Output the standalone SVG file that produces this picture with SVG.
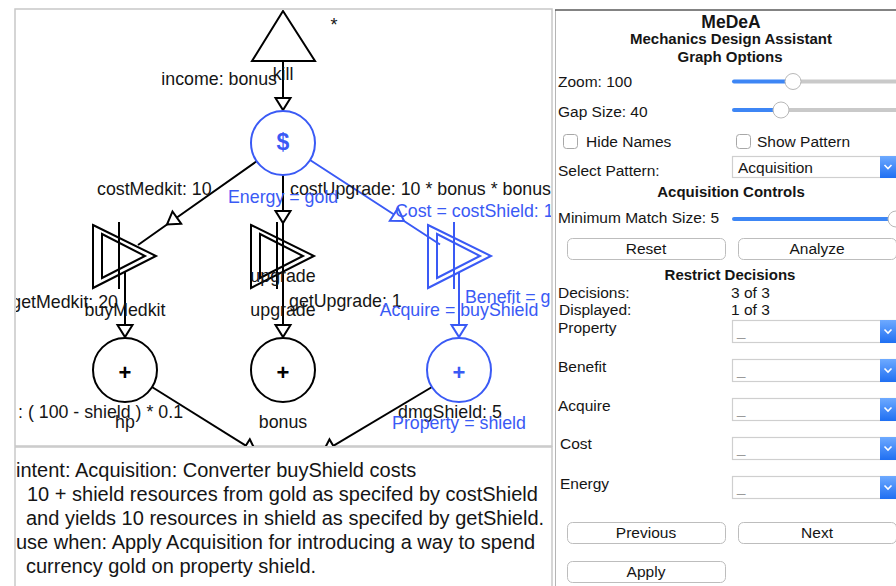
<svg xmlns="http://www.w3.org/2000/svg" width="896" height="586" viewBox="0 0 896 586">
  <style>
    text { font-family: "Liberation Sans", Arial, Helvetica, sans-serif; }
    .lbl { font-size: 17.8px; fill: #151515; }
    .blbl { font-size: 17.8px; fill: #3a5af5; }
    .mid { text-anchor: middle; }
    .end { text-anchor: end; }
    .ln { stroke: #000; stroke-width: 2; fill: none; }
    .bln { stroke: #3a5af5; stroke-width: 2; fill: none; }
    .node { stroke: #000; stroke-width: 2; fill: none; }
    .bnode { stroke: #3a5af5; stroke-width: 2; fill: none; }
    .sym { font-size: 22px; font-weight: bold; text-anchor: middle; fill: #000; }
    .ui { font-size: 15.5px; fill: #151515; }
    .hdr { font-size: 15px; font-weight: bold; fill: #151515; text-anchor: middle; }
    .desc { font-size: 20px; fill: #151515; }
    .btn { fill: #fff; stroke: #bdbdbd; stroke-width: 1; }
    .box { fill: #fff; stroke: #cfcfcf; stroke-width: 1.2; }
    .chk { fill: #fff; stroke: #a8a8a8; stroke-width: 1; }
    .track { stroke: #c9c9c9; stroke-width: 4; stroke-linecap: round; }
    .fill { stroke: #3d86f5; stroke-width: 4; stroke-linecap: round; }
    .thumb { fill: #fff; stroke: #b8b8b8; stroke-width: 1; }
    .drop { fill: url(#dropBlue); }
    .chev { stroke: #fff; stroke-width: 1.6; fill: none; }
    .blank { font-size: 15px; fill: #9a9a9a; }
  </style>
  <defs>
    <marker id="ah" markerUnits="userSpaceOnUse" markerWidth="16" markerHeight="18" refX="12" refY="7.5" orient="auto" overflow="visible">
      <path d="M0,0 L12,7.5 L0,15 Z" fill="#fff" stroke="#000" stroke-width="2"/>
    </marker>
    <marker id="ahBlue" markerUnits="userSpaceOnUse" markerWidth="16" markerHeight="18" refX="12" refY="7.5" orient="auto" overflow="visible">
      <path d="M0,0 L12,7.5 L0,15 Z" fill="#fff" stroke="#3a5af5" stroke-width="2"/>
    </marker>
    <linearGradient id="dropBlue" x1="0" y1="0" x2="0" y2="1">
      <stop offset="0" stop-color="#6eaaff"/>
      <stop offset="1" stop-color="#1f6ff2"/>
    </linearGradient>
    <clipPath id="graphClip">
      <rect x="16" y="10" width="535" height="436"/>
    </clipPath>
    <!-- converter symbol centred on its own origin -->
    <g id="conv">
      <path d="M-32,-31 L31,0 L-32,32 Z"/>
      <path d="M-23,-22 L20,0 L-23,22 Z"/>
      <line x1="-6" y1="-34" x2="-6" y2="33"/>
    </g>
  </defs>

  <rect width="896" height="586" fill="#fff"/>

  <!-- panel frames -->
  <rect x="15" y="9" width="537" height="437" fill="none" stroke="#c8c8c8" stroke-width="1.5"/>
  <line x1="15" y1="446.5" x2="15" y2="586" stroke="#c8c8c8" stroke-width="1.5"/>
  <line x1="15" y1="447" x2="552" y2="447" stroke="#c8c8c8" stroke-width="1.5"/>
  <line x1="552" y1="446" x2="552" y2="586" stroke="#c8c8c8" stroke-width="1.5"/>
  <line x1="555.5" y1="10" x2="555.5" y2="586" stroke="#b5b5b5" stroke-width="1"/>
  <line x1="555" y1="10" x2="896" y2="10" stroke="#5a5a5a" stroke-width="1.6"/>

  <g clip-path="url(#graphClip)">
    <!-- connectors -->
    <g id="connectors">
      <line class="ln" x1="283" y1="61" x2="283" y2="110" marker-end="url(#ah)"/>
      <polyline class="ln" points="257,161 167,224.5 138,245" marker-mid="url(#ah)"/>
      <polyline class="ln" points="283,175 283,223 283,337" marker-mid="url(#ah)" marker-end="url(#ah)"/>
      <polyline class="bln" points="310,160 404,221 440,244.5" marker-mid="url(#ahBlue)"/>
      <line class="ln" x1="125" y1="272" x2="125" y2="337" marker-end="url(#ah)"/>
      <line class="bln" x1="459" y1="272" x2="459" y2="337" marker-end="url(#ahBlue)"/>
      <line class="ln" x1="152" y1="387" x2="256" y2="452" marker-end="url(#ah)"/>
      <line class="ln" x1="432" y1="387" x2="323" y2="452" marker-end="url(#ah)"/>
    </g>

    <!-- source node -->
    <g id="kill">
      <polygon class="node" points="283,11 315,61 252,61"/>
      <text class="lbl" x="334" y="31" text-anchor="middle" style="font-size:18px">*</text>
      <text class="lbl mid" x="283" y="80">kill</text>
    </g>

    <!-- gold pool -->
    <g id="gold">
      <circle class="bnode" cx="283" cy="143" r="32"/>
      <text class="sym" x="283" y="150" style="fill:#3a5af5;font-size:23px">$</text>
    </g>

    <!-- converters -->
    <g id="buyMedkit" class="node">
      <use href="#conv" transform="translate(125,256)"/>
    </g>
    <g id="upgrade" class="node">
      <use href="#conv" transform="translate(283,256)"/>
    </g>
    <g id="buyShield" class="bnode">
      <use href="#conv" transform="translate(460,256)"/>
    </g>

    <!-- pools -->
    <g id="hp">
      <circle class="node" cx="125" cy="370" r="32"/>
      <text class="sym" x="125" y="380">+</text>
      <text class="lbl mid" x="125" y="428">hp</text>
    </g>
    <g id="bonus">
      <circle class="node" cx="283" cy="370" r="32"/>
      <text class="sym" x="283" y="380">+</text>
      <text class="lbl mid" x="283" y="428">bonus</text>
    </g>
    <g id="shield">
      <circle class="bnode" cx="459" cy="370" r="32"/>
      <text class="sym" x="459" y="380" style="fill:#3a5af5">+</text>
    </g>

    <!-- labels -->
    <g id="labels">
      <text class="lbl end" x="277" y="85">income: bonus</text>
      <text class="lbl" x="97" y="195">costMedkit: 10</text>
      <text class="lbl" x="290" y="195">costUpgrade: 10 * bonus * bonus</text>
      <text class="blbl" x="228" y="203">Energy = gold</text>
      <text class="blbl" x="395" y="217">Cost = costShield: 1</text>
      <text class="lbl mid" x="283" y="282">upgrade</text>
      <text class="lbl end" x="118" y="308">getMedkit: 20</text>
      <text class="lbl mid" x="125" y="316">buyMedkit</text>
      <text class="lbl" x="289" y="307">getUpgrade: 1</text>
      <text class="lbl mid" x="283" y="316">upgrade</text>
      <text class="blbl" x="465" y="303">Benefit = g</text>
      <text class="blbl mid" x="459" y="316">Acquire = buyShield</text>
      <text class="lbl" x="18" y="418">: ( 100 - shield ) * 0.1</text>
      <text class="lbl" x="398" y="418">dmgShield: 5</text>
      <text class="blbl mid" x="459" y="429">Property = shield</text>
    </g>
  </g>

  <!-- pattern description -->
  <g id="description" class="desc">
    <text x="16" y="477">intent: Acquisition: Converter buyShield costs</text>
    <text x="27" y="501">10 + shield resources from gold as specifed by costShield</text>
    <text x="26" y="525">and yields 10 resources in shield as specifed by getShield.</text>
    <text x="16" y="549">use when: Apply Acquisition for introducing a way to spend</text>
    <text x="26" y="573">currency gold on property shield.</text>
  </g>

  <!-- options panel -->
  <g id="options">
    <text class="hdr" x="731" y="28" style="font-size:17.5px">MeDeA</text>
    <text class="hdr" x="731" y="44">Mechanics Design Assistant</text>
    <text class="hdr" x="730" y="62">Graph Options</text>

    <text class="ui" x="558" y="87">Zoom:  100</text>
    <line class="track" x1="792" y1="81.5" x2="898" y2="81.5"/>
    <line class="fill" x1="734" y1="81.5" x2="792" y2="81.5"/>
    <circle class="thumb" cx="793" cy="81.5" r="8"/>

    <text class="ui" x="558" y="117">Gap Size:  40</text>
    <line class="track" x1="781" y1="110" x2="898" y2="110"/>
    <line class="fill" x1="734" y1="110" x2="781" y2="110"/>
    <circle class="thumb" cx="781" cy="110" r="8"/>

    <rect class="chk" x="563.5" y="134.5" width="14" height="14" rx="3"/>
    <text class="ui" x="586" y="147">Hide Names</text>
    <rect class="chk" x="736.5" y="134.5" width="14" height="14" rx="3"/>
    <text class="ui" x="757" y="147">Show Pattern</text>

    <text class="ui" x="558" y="176">Select Pattern:</text>
    <rect class="box" x="732.5" y="156.5" width="165" height="21"/>
    <rect class="drop" x="880" y="156" width="16" height="22"/>
    <path class="chev" d="M884.5,165 L888,168.5 L891.5,165"/>
    <text class="ui" x="738" y="173">Acquisition</text>

    <text class="hdr" x="731" y="197">Acquisition Controls</text>
    <text class="ui" x="558" y="223">Minimum Match Size: 5</text>
    <line class="fill" x1="734" y1="219" x2="894" y2="219"/>
    <circle class="thumb" cx="896" cy="219" r="8"/>

    <rect class="btn" x="567.5" y="238.5" width="158" height="21" rx="5"/>
    <text class="ui mid" x="646" y="254">Reset</text>
    <rect class="btn" x="738.5" y="238.5" width="158" height="21" rx="5"/>
    <text class="ui mid" x="817" y="254">Analyze</text>

    <text class="hdr" x="730" y="280">Restrict Decisions</text>
    <text class="ui" x="558" y="298">Decisions:</text>
    <text class="ui" x="731" y="298">3 of 3</text>
    <text class="ui" x="559" y="315">Displayed:</text>
    <text class="ui" x="731" y="315">1 of 3</text>

    <text class="ui" x="558" y="333">Property</text>
    <rect class="box" x="732.5" y="320.5" width="165" height="22"/>
    <rect class="drop" x="880" y="320" width="16" height="23"/>
    <path class="chev" d="M884.5,329.5 L888,333 L891.5,329.5"/>
    <text class="blank" x="737" y="336">_</text>

    <text class="ui" x="558" y="372">Benefit</text>
    <rect class="box" x="732.5" y="359.5" width="165" height="22"/>
    <rect class="drop" x="880" y="359" width="16" height="23"/>
    <path class="chev" d="M884.5,368.5 L888,372 L891.5,368.5"/>
    <text class="blank" x="737" y="375">_</text>

    <text class="ui" x="558" y="411">Acquire</text>
    <rect class="box" x="732.5" y="398.5" width="165" height="22"/>
    <rect class="drop" x="880" y="398" width="16" height="23"/>
    <path class="chev" d="M884.5,407.5 L888,411 L891.5,407.5"/>
    <text class="blank" x="737" y="414">_</text>

    <text class="ui" x="560" y="449">Cost</text>
    <rect class="box" x="732.5" y="437.5" width="165" height="22"/>
    <rect class="drop" x="880" y="437" width="16" height="23"/>
    <path class="chev" d="M884.5,446.5 L888,450 L891.5,446.5"/>
    <text class="blank" x="737" y="453">_</text>

    <text class="ui" x="560" y="489">Energy</text>
    <rect class="box" x="732.5" y="476.5" width="165" height="22"/>
    <rect class="drop" x="880" y="476" width="16" height="23"/>
    <path class="chev" d="M884.5,485.5 L888,489 L891.5,485.5"/>
    <text class="blank" x="737" y="492">_</text>

    <rect class="btn" x="567.5" y="522.5" width="158" height="21" rx="5"/>
    <text class="ui mid" x="646" y="538">Previous</text>
    <rect class="btn" x="738.5" y="522.5" width="158" height="21" rx="5"/>
    <text class="ui mid" x="817" y="538">Next</text>
    <rect class="btn" x="567.5" y="561.5" width="158" height="21" rx="5"/>
    <text class="ui mid" x="646" y="577">Apply</text>
  </g>
</svg>
